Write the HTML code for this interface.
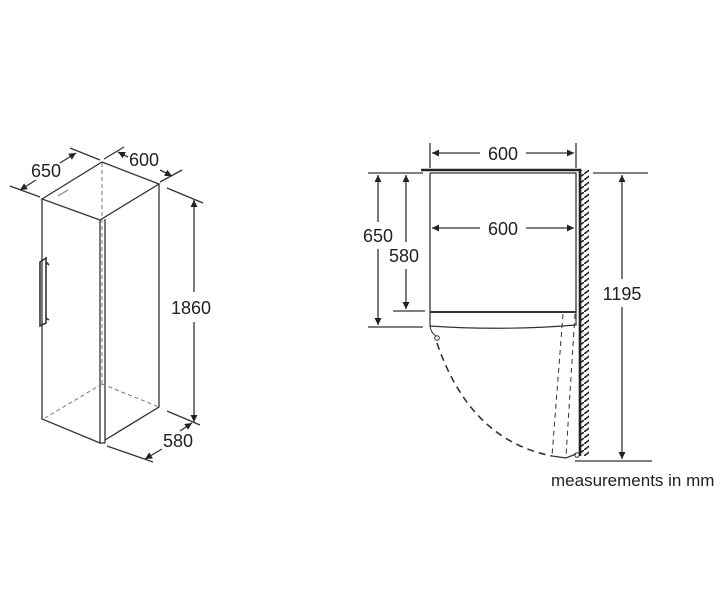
<!DOCTYPE html>
<html><head><meta charset="utf-8"><style>
html,body{margin:0;padding:0;background:#fff;}
svg{display:block;}
text{font-family:"Liberation Sans",Arial,sans-serif;fill:#222;}
</style></head><body>
<svg width="720" height="600" viewBox="0 0 720 600" xmlns="http://www.w3.org/2000/svg">
<defs>
<marker id="a" viewBox="0 0 10 10" refX="10" refY="5" markerWidth="9" markerHeight="7" orient="auto-start-reverse" markerUnits="userSpaceOnUse"><path d="M0,0 L10,5 L0,10 z" fill="#222"/></marker>
<pattern id="h" width="8" height="6" patternUnits="userSpaceOnUse"><path d="M0,6 L8,0" stroke="#222" stroke-width="1.6"/></pattern>
</defs>
<g stroke="#333" stroke-width="1.3" fill="none">
<path d="M42,199 L102,162 L159,184 L100,220 Z"/>
<path d="M42,199 L42,419 L100,443 L100,220"/>
<path d="M105,219 L105,443"/>
<path d="M159,184 L159,407 L105,440"/>
<path d="M100,443 L105,443"/>
<path d="M102,163 L102,384 M102,384 L45,418 M102,384 L159,407" stroke-dasharray="4,3" stroke="#777" stroke-width="1"/>
<path d="M40,262 L46,258 L46,323 L40,326 Z M46,262 L49,265 M46,318 L49,320" stroke-width="1.6"/>
<path d="M58,196 L68,190" stroke="#888"/>
<path d="M10,186 L40,197 M70,148 L100,160"/>
<path d="M36,180 L20,190" marker-end="url(#a)"/>
<path d="M60,163 L76,153" marker-end="url(#a)"/>
<path d="M104,159 L124,147 M160,182 L182,170"/>
<path d="M128,157 L118,152" marker-end="url(#a)"/>
<path d="M160,170 L172,176" marker-end="url(#a)"/>
<path d="M167,188 L203,203 M167,411 L200,425"/>
<path d="M194,292 L194,200" marker-end="url(#a)"/>
<path d="M194,322 L194,422" marker-end="url(#a)"/>
<path d="M107,446 L153,462"/>
<path d="M162,449 L145,459" marker-end="url(#a)"/>
<path d="M180,431 L192,423" marker-end="url(#a)"/>
<path d="M421,170 L580,170 L580,456" stroke-width="2.6" stroke="#222"/>
<rect x="580" y="170" width="9" height="286" fill="url(#h)" stroke="none"/>
<path d="M430,173 L576,173 L576,312 M430,173 L430,312"/>
<path d="M430,312 L576,312" stroke-width="2"/>
<path d="M430,312 L430,326 Q503,331 576,325 L576,312" stroke-width="1.2"/>
<path d="M430,326 Q431,333 436,336" stroke-width="1"/>
<circle cx="437" cy="338" r="2.3" stroke-width="1"/>
<path d="M437,343 Q470,440 552,456" stroke-dasharray="7,5" stroke-width="1.6"/>
<path d="M563,314 L552,456 M575,314 L566,456" stroke-dasharray="5,4" stroke-width="1"/>
<path d="M552,456 L566,458 L576,454"/>
<circle cx="577" cy="455" r="2.3" stroke-width="1"/>
<path d="M430,143 L430,168 M576,143 L576,168"/>
<path d="M480,153 L432,153" marker-end="url(#a)"/>
<path d="M526,153 L574,153" marker-end="url(#a)"/>
<path d="M480,228 L432,228" marker-end="url(#a)"/>
<path d="M526,228 L574,228" marker-end="url(#a)"/>
<path d="M368,173 L423,173 M368,327 L423,327 M393,311 L425,311"/>
<path d="M378,222 L378,175" marker-end="url(#a)"/>
<path d="M378,249 L378,325" marker-end="url(#a)"/>
<path d="M406,242 L406,175" marker-end="url(#a)"/>
<path d="M406,269 L406,309" marker-end="url(#a)"/>
<path d="M593,173 L648,173 M575,461 L652,461"/>
<path d="M622,279 L622,175" marker-end="url(#a)"/>
<path d="M622,307 L622,459" marker-end="url(#a)"/>
</g>
<g font-size="18">
<text x="46" y="177" text-anchor="middle">650</text>
<text x="144" y="166" text-anchor="middle">600</text>
<text x="191" y="314" text-anchor="middle">1860</text>
<text x="178" y="447" text-anchor="middle">580</text>
<text x="503" y="160" text-anchor="middle">600</text>
<text x="503" y="235" text-anchor="middle">600</text>
<text x="378" y="242" text-anchor="middle">650</text>
<text x="404" y="262" text-anchor="middle">580</text>
<text x="622" y="300" text-anchor="middle">1195</text>
<text x="551" y="486" font-size="17">measurements in mm</text>
</g>
</svg>
</body></html>
